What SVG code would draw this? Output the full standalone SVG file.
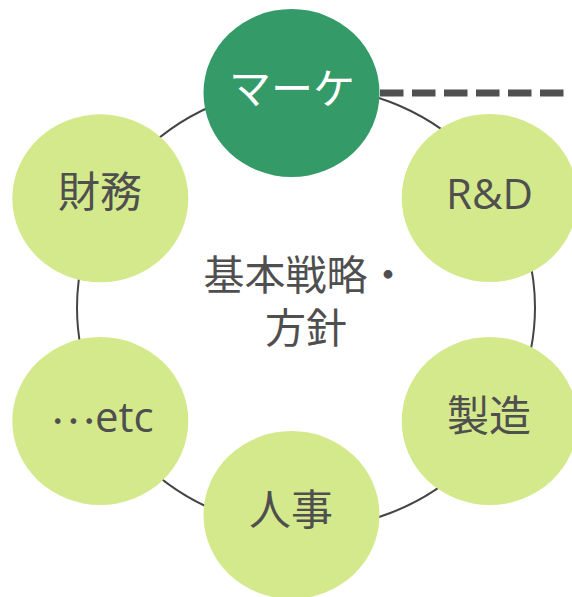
<svg xmlns="http://www.w3.org/2000/svg" width="572" height="597" viewBox="0 0 572 597">
<style>
.ring{fill:none;stroke:#444;stroke-width:2}
.dash{stroke:#505050;stroke-width:7;stroke-dasharray:23.5 8.5;fill:none}
.n{fill:#D4E98B}
.dk{fill:#349A68}
.t{font-family:"Open Sans","Noto Sans CJK JP",sans-serif;font-size:42px;fill:#4F4F4F;text-anchor:middle}
.c{font-size:41px}
.w{fill:#FFFFFF}
.cjk{font-family:"Noto Sans CJK JP",sans-serif}
</style>
<rect width="572" height="597" fill="#FFFFFF"/>
<g id="connectors">
<ellipse class="ring" cx="306" cy="307.5" rx="229" ry="221"/>
<line class="dash" x1="380" y1="93" x2="572" y2="93"/>
</g>
<g id="center">
<text class="t cjk c" x="306" y="290">基本戦略・<tspan x="306" dy="53">方針</tspan></text>
</g>
<g id="node-marketing">
<ellipse class="dk" cx="291.5" cy="93" rx="88" ry="84"/>
<text class="t cjk w" x="292" y="104">マーケ</text>
</g>
<g id="node-rd">
<ellipse class="n" cx="489.7" cy="198" rx="88" ry="84"/>
<text class="t" x="489.5" y="208.5">R&amp;D</text>
</g>
<g id="node-finance">
<ellipse class="n" cx="100.3" cy="198.3" rx="88" ry="84"/>
<text class="t cjk" x="100" y="207">財務</text>
</g>
<g id="node-etc">
<ellipse class="n" cx="100.3" cy="421" rx="88" ry="84"/>
<text class="t" x="102" y="431.5"><tspan class="cjk" dy="-9">…</tspan><tspan dy="9">etc</tspan></text>
</g>
<g id="node-manufacturing">
<ellipse class="n" cx="489.7" cy="421" rx="88" ry="84"/>
<text class="t cjk" x="489" y="431">製造</text>
</g>
<g id="node-hr">
<ellipse class="n" cx="291.5" cy="515" rx="88" ry="84"/>
<text class="t cjk" x="291" y="525">人事</text>
</g>
</svg>
